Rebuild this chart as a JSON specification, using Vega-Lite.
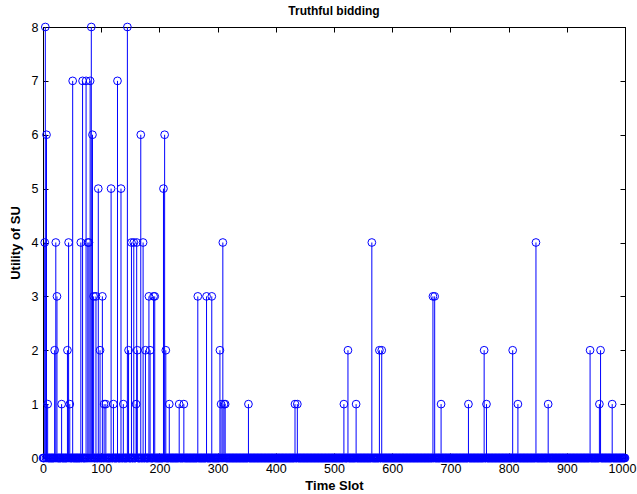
{
  "$schema": "https://vega.github.io/schema/vega-lite/v6.json",
  "width": 582,
  "height": 431,
  "autosize": {"type": "none"},
  "padding": {"left": 43, "top": 27, "right": 12, "bottom": 36},
  "background": "white",
  "title": {"text": "Truthful bidding", "fontSize": 12, "font": "Liberation Sans", "fontWeight": "bold", "color": "black", "offset": 3},
  "config": {
    "view": {"stroke": "black", "strokeWidth": 1},
    "axis": {"grid": false, "domainColor": "black", "tickColor": "black", "labelColor": "black", "titleColor": "black", "labelFont": "Liberation Sans", "titleFont": "Liberation Sans", "labelFontSize": 12.5, "titleFontSize": 13, "titleFontWeight": "bold", "tickSize": -5, "zindex": 1}
  },
  "resolve": {"axis": {"x": "independent", "y": "independent"}},
  "layer": [
    {
      "data": {"values": [0,1,2,5,7,9,10,11,12,13,14,15,16,17,18,19,21,23,25,26,27,28,29,30,31,33,34,35,36,37,38,39,40,41,43,45,47,48,49,50,52,53,54,55,56,57,58,59,60,61,62,63,64,66,67,69,70,71,72,73,75,76,78,80,82,84,86,88,89,90,92,93,94,96,97,99,100,101,103,104,106,107,109,110,111,112,113,114,115,116,118,119,120,122,123,124,125,126,127,129,130,131,132,133,135,136,137,139,140,141,142,143,144,146,148,149,150,151,153,154,155,157,158,159,163,164,165,166,167,169,170,171,173,174,175,177,178,179,180,181,183,185,186,187,188,189,191,193,194,195,196,197,198,199,200,201,202,203,204,205,206,208,210,212,213,214,215,216,218,219,220,221,222,223,224,225,226,227,228,229,230,231,232,233,235,236,237,238,239,240,241,243,244,245,246,247,248,249,250,251,252,253,254,255,256,257,258,259,260,261,262,263,264,265,267,268,269,270,271,272,273,274,275,276,277,278,279,280,282,283,284,285,286,287,288,289,291,292,293,294,295,296,297,298,299,300,301,302,303,305,307,308,310,312,314,315,316,317,318,319,320,321,322,323,324,325,326,327,328,329,330,331,332,333,334,335,336,337,338,339,340,341,342,343,344,345,346,347,348,349,350,351,352,354,355,356,357,358,359,360,361,362,363,364,365,366,367,368,369,370,371,372,373,374,375,376,377,378,379,380,381,382,383,384,385,386,387,388,389,390,391,392,393,394,395,396,397,398,399,400,401,402,403,404,405,406,407,408,409,410,411,412,413,414,415,416,417,418,419,420,421,422,423,424,425,426,427,428,429,430,431,432,434,435,436,438,439,440,441,442,443,444,445,446,447,448,449,450,451,452,453,454,455,456,457,458,459,460,461,462,463,464,465,466,467,468,469,470,471,472,473,474,475,476,477,478,479,480,481,482,483,484,485,486,487,488,489,490,491,492,493,494,495,496,497,498,499,500,501,502,503,504,505,506,507,508,509,510,511,512,513,514,515,516,518,519,520,521,522,523,525,526,527,528,529,530,531,532,533,534,535,536,537,539,540,541,542,543,544,545,546,547,548,549,550,551,552,553,554,555,556,557,558,559,560,561,562,563,564,566,567,568,569,570,571,572,573,574,575,576,577,579,580,581,583,584,585,586,587,588,589,590,591,592,593,594,595,596,597,598,599,600,601,602,603,604,605,606,607,608,609,610,611,612,613,614,615,616,617,618,619,620,621,622,623,624,625,626,627,628,629,630,631,632,633,634,635,636,637,638,639,640,641,642,643,644,645,646,647,648,649,650,651,652,653,654,655,656,657,658,659,660,661,662,663,664,665,666,667,668,669,671,672,674,675,676,677,678,679,680,681,682,683,685,686,687,688,689,690,691,692,693,694,695,696,697,698,699,700,701,702,703,704,705,706,707,708,709,710,711,712,713,714,715,716,717,718,719,720,721,722,723,724,725,726,727,728,729,730,732,733,734,735,736,737,738,739,740,741,742,743,744,745,746,747,748,749,750,751,752,753,754,755,756,757,759,760,761,763,764,765,766,767,768,769,770,771,772,773,774,775,776,777,778,779,780,781,782,783,784,785,786,787,788,789,790,791,792,793,794,795,796,797,798,799,800,801,802,803,804,805,806,808,809,810,811,812,813,814,815,817,818,819,820,821,822,823,824,825,826,827,828,829,830,831,832,833,834,835,836,837,838,839,840,841,842,843,844,845,846,848,849,850,851,852,853,854,855,856,857,858,859,860,861,862,863,864,865,866,867,869,870,871,872,873,874,875,876,877,878,879,880,881,882,883,884,885,886,887,888,889,890,891,892,893,894,895,896,897,898,899,900,901,902,903,904,905,906,907,908,909,910,911,912,913,914,915,916,917,918,919,920,921,922,923,924,925,926,927,928,929,930,931,932,933,934,935,936,937,938,939,941,942,943,944,945,946,947,948,949,950,951,952,953,954,955,957,959,960,961,962,963,964,965,966,967,968,969,970,971,972,973,974,975,976,977,979,980,981,982,983,984,985,986,987,988,989,990,991,992,993,994,995,996,997,998,999,1000]},
      "mark": {"type": "point", "shape": "circle", "filled": false, "color": "#0000ff", "size": 60, "strokeWidth": 1, "opacity": 1},
      "encoding": {
        "x": {"field": "data", "type": "quantitative", "scale": {"domain": [0, 1000], "nice": false}, "axis": null},
        "y": {"datum": 0, "type": "quantitative", "scale": {"domain": [0, 8], "nice": false}, "axis": null}
      }
    },
    {
      "data": {"name": "su", "values": [
        {"t":3,"u":4},{"t":4,"u":8},{"t":6,"u":6},{"t":8,"u":1},{"t":20,"u":2},{"t":22,"u":4},{"t":24,"u":3},{"t":32,"u":1},{"t":42,"u":2},{"t":44,"u":4},{"t":46,"u":1},{"t":51,"u":7},{"t":65,"u":4},{"t":68,"u":7},{"t":74,"u":7},{"t":77,"u":4},{"t":79,"u":4},{"t":81,"u":7},{"t":83,"u":8},{"t":85,"u":6},{"t":87,"u":3},{"t":91,"u":3},{"t":95,"u":5},{"t":98,"u":2},{"t":102,"u":3},{"t":105,"u":1},{"t":108,"u":1},{"t":117,"u":5},{"t":121,"u":1},{"t":128,"u":7},{"t":134,"u":5},{"t":138,"u":1},{"t":145,"u":8},{"t":147,"u":2},{"t":152,"u":4},{"t":156,"u":4},{"t":160,"u":1},{"t":161,"u":4},{"t":162,"u":2},{"t":168,"u":6},{"t":172,"u":4},{"t":176,"u":2},{"t":182,"u":3},{"t":184,"u":2},{"t":190,"u":3},{"t":192,"u":3},{"t":207,"u":5},{"t":209,"u":6},{"t":211,"u":2},{"t":217,"u":1},{"t":234,"u":1},{"t":242,"u":1},{"t":266,"u":3},{"t":281,"u":3},{"t":290,"u":3},{"t":304,"u":2},{"t":306,"u":1},{"t":309,"u":4},{"t":311,"u":1},{"t":313,"u":1},{"t":353,"u":1},{"t":433,"u":1},{"t":437,"u":1},{"t":517,"u":1},{"t":524,"u":2},{"t":538,"u":1},{"t":565,"u":4},{"t":578,"u":2},{"t":582,"u":2},{"t":670,"u":3},{"t":673,"u":3},{"t":684,"u":1},{"t":731,"u":1},{"t":758,"u":2},{"t":762,"u":1},{"t":807,"u":2},{"t":816,"u":1},{"t":847,"u":4},{"t":868,"u":1},{"t":940,"u":2},{"t":956,"u":1},{"t":958,"u":2},{"t":978,"u":1}
      ]},
      "layer": [
        {
          "mark": {"type": "rule", "color": "#0000ff", "strokeWidth": 1},
          "encoding": {
            "x": {"field": "t", "type": "quantitative", "scale": {"domain": [0, 1000], "nice": false},
              "axis": {"orient": "top", "values": [0,100,200,300,400,500,600,700,800,900,1000], "labels": false, "title": null}},
            "y": {"field": "u", "type": "quantitative", "scale": {"domain": [0, 8], "nice": false},
              "axis": {"orient": "right", "values": [0,1,2,3,4,5,6,7,8], "labels": false, "title": null}},
            "y2": {"datum": 0}
          }
        },
        {
          "mark": {"type": "point", "shape": "circle", "filled": false, "color": "#0000ff", "size": 60, "strokeWidth": 1, "opacity": 1},
          "encoding": {
            "x": {"field": "t", "type": "quantitative",
              "axis": {"orient": "bottom", "values": [0,100,200,300,400,500,600,700,800,900,1000], "format": "d", "title": "Time Slot", "labelPadding": 9, "titlePadding": 5, "labelFlush": false,
                "labelOffset": {"condition": {"test": "datum.value == 1000", "value": -3}, "value": 0}}},
            "y": {"field": "u", "type": "quantitative",
              "axis": {"orient": "left", "values": [0,1,2,3,4,5,6,7,8], "format": "d", "title": "Utility of SU", "labelPadding": 10, "titlePadding": 9}}
          }
        }
      ]
    }
  ]
}
